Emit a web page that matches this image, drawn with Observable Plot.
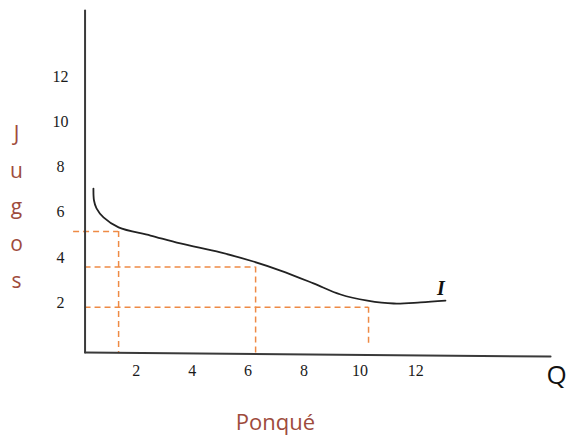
<!DOCTYPE html>
<html>
<head>
<meta charset="utf-8">
<script src="https://cdn.jsdelivr.net/npm/d3@7"></script>
<script src="https://cdn.jsdelivr.net/npm/@observablehq/plot@0.6"></script>
<style>
  html, body { margin: 0; padding: 0; background: #fff; }
  svg { display: block; }
</style>
</head>
<body>
<div id="chart"></div>
<script>
// Tick labels
const xTicks = [2, 4, 6, 8, 10, 12];
const yTicks = [2, 4, 6, 8, 10, 12];

// Indifference curve I (Ponqué vs Jugos)
const curveX = [0.47, 0.49, 0.58, 0.83, 1.37, 2.51, 3.58, 5.01, 6.19, 7.16, 8.34, 9.31, 10.27, 11.21, 12.17, 13.06];
const curveY = [7.05, 6.52, 6.17, 5.77, 5.33, 4.97, 4.62, 4.22, 3.82, 3.42, 2.85, 2.36, 2.09, 1.96, 2.01, 2.09];

// Dashed guide lines (bundles on the curve)
const guideX = [1.37, 6.27, 10.31];
const guideY = [5.15, 3.58, 1.80];
const guideFromX = [-0.24, 0.17, 0.17];
const guideToY = [-0.21, -0.38, 0.10];

// Axis extents
const axisX = [0.17, 16.82];
const axisY = [-0.21, 14.93];

const curve = curveX.map((x, i) => ({x, y: curveY[i]}));
const guides = guideX.map((x, i) => ({x, y: guideY[i], x0: guideFromX[i], y0: guideToY[i]}));

const orange = "#EE8A45";
const brown = "#9E4B3C";

const chart = Plot.plot({
  width: 566,
  height: 440,
  margin: 0,
  style: {background: "#fff"},
  x: {domain: [0, 12], range: [79.8, 415.3], axis: null},
  y: {domain: [0, 12], range: [347.3, 76.2], axis: null},
  marks: [
    // dashed guides
    Plot.ruleY(guides, {y: "y", x1: "x0", x2: "x", stroke: orange, strokeWidth: 1.5, strokeDasharray: "6,4"}),
    Plot.ruleX(guides, {x: "x", y1: "y", y2: "y0", stroke: orange, strokeWidth: 1.5, strokeDasharray: "6,4"}),
    // axes
    Plot.line([{x: axisX[0], y: axisY[0]}, {x: axisX[0], y: axisY[1]}], {x: "x", y: "y", stroke: "#3a3a3a", strokeWidth: 2}),
    Plot.line([{x: axisX[0], y: axisY[0]}, {x: axisX[1], y: -0.385}], {x: "x", y: "y", stroke: "#3a3a3a", strokeWidth: 2}),
    // curve
    Plot.line(curve, {x: "x", y: "y", curve: "catmull-rom", stroke: "#222", strokeWidth: 1.8}),
    Plot.text(["I"], {x: [12.9], y: [2.62], text: d => d, fontFamily: "Liberation Serif", fontStyle: "italic", fontWeight: "bold", fontSize: 20, fill: "#111"}),
    // tick labels
    Plot.text(xTicks, {x: d => d, frameAnchor: "bottom", dy: -65, text: d => String(d), fontFamily: "Liberation Serif", fontSize: 16, fill: "#1a1a1a"}),
    Plot.text(yTicks, {y: d => d, frameAnchor: "left", dx: 60, textAnchor: "middle", text: d => String(d), fontFamily: "Liberation Serif", fontSize: 16, fill: "#1a1a1a"}),
    // axis titles
    Plot.text(["J\nu\ng\no\ns"], {frameAnchor: "left", dx: 16, dy: -18, textAnchor: "middle", lineHeight: 1.75, text: d => d, fontFamily: "Open Sans", fontSize: 21, fill: brown}),
    Plot.text(["Ponqué"], {frameAnchor: "bottom", dx: -8, dy: -11, text: d => d, fontFamily: "Open Sans", fontSize: 22, fill: brown}),
    Plot.text(["Q"], {frameAnchor: "right", dx: -10, dy: 155, textAnchor: "middle", text: d => d, fontFamily: "Open Sans", fontSize: 26, fill: "#111"})
  ]
});
document.getElementById("chart").appendChild(chart);
</script>
</body>
</html>
